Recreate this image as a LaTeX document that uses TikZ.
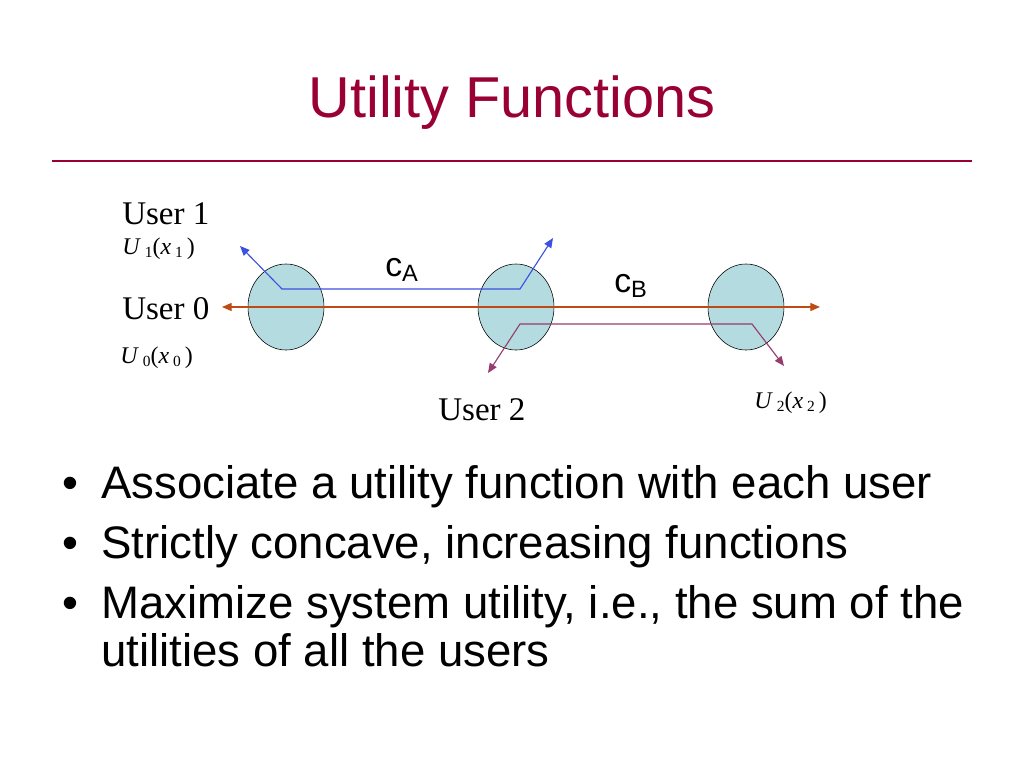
\documentclass[tikz,border=0pt]{standalone}
\usepackage{fontspec}
\setmainfont{Liberation Sans}
\newfontfamily\timesfont{Liberation Serif}
\usepackage{xcolor}
\usetikzlibrary{shapes.geometric, arrows.meta, positioning}

\definecolor{titlered}{RGB}{153,0,51}
\definecolor{nodefill}{RGB}{180,220,224}
\definecolor{flowbrown}{RGB}{190,75,20}
\definecolor{flowblue}{RGB}{60,80,225}
\definecolor{flowpurple}{RGB}{150,60,110}

\newcommand{\ufunc}[1]{{\timesfont\fontsize{17}{20}\selectfont\textit{U}\,\raisebox{-0.35ex}{\fontsize{11}{12}\selectfont#1}(\textit{x}\,\raisebox{-0.35ex}{\fontsize{11}{12}\selectfont#1}\,)}}

\begin{document}
\begin{tikzpicture}[
    x=0.025cm, y=-0.025cm,
    router/.style={ellipse, draw, fill=nodefill, minimum width=1.9cm, minimum height=2.15cm, inner sep=0pt},
    flow/.style={{Triangle[length=2.4mm,width=2mm]}-{Triangle[length=2.4mm,width=2mm]}, line width=0.8pt},
    user/.style={anchor=base west, inner sep=0pt, font=\timesfont\fontsize{23.5}{28}\selectfont},
    ulabel/.style={anchor=base west, inner sep=0pt},
    link/.style={anchor=base west, inner sep=0pt, font=\fontsize{24}{28}\selectfont},
    bullet/.style={anchor=base west, inner sep=0pt, font=\fontsize{32.4}{38}\selectfont}
]
    \useasboundingbox (0,0) rectangle (1024,768);

    % title
    \node [anchor=base, inner sep=0pt, text=titlered, font=\fontsize{41}{49}\selectfont] (title) at (512,118) {Utility Functions};
    \coordinate (ruleL) at (52,161);
    \coordinate (ruleR) at (972,161);
    \draw [titlered, line width=1.4pt] (ruleL) -- (ruleR);

    % routers
    \node [router] (r1) at (286,307) {};
    \node [router] (r2) at (516,307) {};
    \node [router] (r3) at (746,307) {};

    % flow ends and corners
    \coordinate (u0L) at (222,307);
    \coordinate (u0R) at (820,307);
    \coordinate (u1L) at (240,246);
    \coordinate (u1a) at (282,289);
    \coordinate (u1b) at (520,289);
    \coordinate (u1R) at (553,238);
    \coordinate (u2L) at (488,373);
    \coordinate (u2a) at (520,324);
    \coordinate (u2b) at (752,324);
    \coordinate (u2R) at (784,366);

    \draw [flow, flowbrown] (u0L) -- (u0R);
    \draw [flow, flowblue] (u1L) -- (u1a) -- (u1b) -- (u1R);
    \draw [flow, flowpurple] (u2L) -- (u2a) -- (u2b) -- (u2R);

    % labels
    \node [user] (user1) at (122,224) {User 1};
    \node [ulabel] (util1) at (122,254) {\ufunc{1}};
    \node [user] (user0) at (122,319) {User 0};
    \node [ulabel] (util0) at (120,363) {\ufunc{0}};
    \node [user] (user2) at (438,420) {User 2};
    \node [ulabel] (util2) at (754,408) {\ufunc{2}};
    \node [link] (capA) at (385,276) {c\textsubscript{A}};
    \node [link] (capB) at (614,292) {c\textsubscript{B}};

    % bullets
    \foreach \txt [count=\i] in {Associate a utility function with each user,
        {Strictly concave, increasing functions},
        {Maximize system utility, i.e., the sum of the}} {
        \node [bullet] (dot\i) at (62,438+60*\i) {\textbullet};
        \node [bullet] (item\i) at (101,438+60*\i) {\txt};
    }
    \node [bullet] (item3b) at (101,666) {utilities of all the users};
\end{tikzpicture}
\end{document}
